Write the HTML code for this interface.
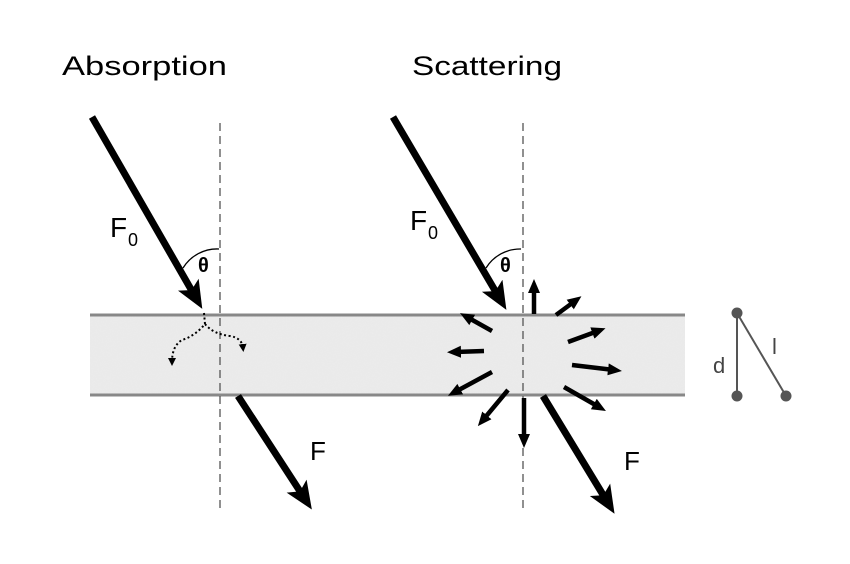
<!DOCTYPE html>
<html><head><style>html,body{margin:0;padding:0;background:#fff;}svg{display:block}</style></head>
<body>
<svg width="850" height="564" viewBox="0 0 850 564" xmlns="http://www.w3.org/2000/svg" font-family="Liberation Sans, sans-serif">
<defs>
<marker id="ah" markerWidth="4" markerHeight="4" refX="2.2" refY="2" orient="auto" markerUnits="strokeWidth"><path d="M0,0.3 L4,2 L0,3.7 L0.9,2 Z" fill="#000"/></marker>
<marker id="sh" markerWidth="14" markerHeight="14" refX="6" refY="7" orient="auto" markerUnits="userSpaceOnUse"><path d="M0,1 L14,7 L0,13 Z" fill="#000"/></marker>
<marker id="dh" markerWidth="8" markerHeight="8" refX="4" refY="4" orient="auto" markerUnits="userSpaceOnUse"><path d="M0,0 L8,4 L0,8 Z" fill="#000"/></marker>
<filter id="noise" x="0" y="0" width="1" height="1"><feTurbulence type="fractalNoise" baseFrequency="0.8" numOctaves="2" seed="3"/><feColorMatrix type="matrix" values="0 0 0 0 0.8 0 0 0 0 0.8 0 0 0 0 0.8 0 0 0 1.2 -0.4"/></filter>
</defs>
<text x="62" y="75" font-size="27" textLength="165" lengthAdjust="spacingAndGlyphs">Absorption</text>
<text x="412" y="75" font-size="27" textLength="150" lengthAdjust="spacingAndGlyphs">Scattering</text>
<rect x="90" y="315" width="595" height="80" fill="#ebebeb"/>
<rect x="90" y="315" width="595" height="80" filter="url(#noise)" opacity="0.7"/>
<line x1="90" y1="315" x2="685" y2="315" stroke="#888" stroke-width="3"/>
<line x1="90" y1="395" x2="685" y2="395" stroke="#888" stroke-width="3"/>
<line x1="220" y1="123" x2="220" y2="512" stroke="#555" stroke-width="1.3" stroke-dasharray="8,5"/>
<line x1="523" y1="123" x2="523" y2="512" stroke="#555" stroke-width="1.3" stroke-dasharray="8,5"/>
<line x1="92" y1="117" x2="196" y2="298" stroke="#000" stroke-width="7" marker-end="url(#ah)"/>
<line x1="238" y1="396" x2="305" y2="499" stroke="#000" stroke-width="7" marker-end="url(#ah)"/>
<path d="M183,268 A40,40 0 0 1 219,249" fill="none" stroke="#000" stroke-width="1.3"/>
<text x="198" y="272" font-size="20" font-weight="bold">θ</text>
<text x="110" y="237" font-size="28">F</text><text x="128" y="246" font-size="18">0</text>
<text x="310" y="460" font-size="26">F</text>
<path d="M204,313 L205,324 Q195,336 182,340 Q172,346 172,362" fill="none" stroke="#000" stroke-width="2" stroke-dasharray="2,2.5" marker-end="url(#dh)"/>
<path d="M205,324 Q213,334 230,336 Q242,338 243,348" fill="none" stroke="#000" stroke-width="2" stroke-dasharray="2,2.5" marker-end="url(#dh)"/>
<line x1="393" y1="117" x2="500" y2="299" stroke="#000" stroke-width="7" marker-end="url(#ah)"/>
<line x1="543" y1="396" x2="608" y2="503" stroke="#000" stroke-width="7" marker-end="url(#ah)"/>
<path d="M486,268 A40,40 0 0 1 521,249" fill="none" stroke="#000" stroke-width="1.3"/>
<text x="500" y="272" font-size="20" font-weight="bold">θ</text>
<text x="410" y="230" font-size="28">F</text><text x="428" y="239" font-size="18">0</text>
<text x="624" y="470" font-size="26">F</text>
<g stroke="#000" stroke-width="4.5" marker-end="url(#sh)">
<line x1="534" y1="314" x2="534" y2="287"/>
<line x1="556" y1="315" x2="575" y2="301"/>
<line x1="568" y1="342" x2="598" y2="331"/>
<line x1="572" y1="365" x2="614" y2="370"/>
<line x1="564" y1="387" x2="599" y2="407"/>
<line x1="524" y1="398" x2="524" y2="440"/>
<line x1="508" y1="390" x2="483" y2="420"/>
<line x1="492" y1="372" x2="455" y2="392"/>
<line x1="484" y1="351" x2="455" y2="352"/>
<line x1="492" y1="331" x2="467" y2="317"/>
</g>
<line x1="737" y1="313" x2="737" y2="396" stroke="#555" stroke-width="2"/>
<line x1="737" y1="313" x2="786" y2="396" stroke="#555" stroke-width="2"/>
<circle cx="737" cy="313" r="5.5" fill="#555"/>
<circle cx="737" cy="396" r="5.5" fill="#555"/>
<circle cx="786" cy="396" r="5.5" fill="#555"/>
<text x="713" y="373" font-size="22" fill="#444">d</text>
<text x="772" y="354" font-size="22" fill="#444">l</text>
</svg>
</body></html>
